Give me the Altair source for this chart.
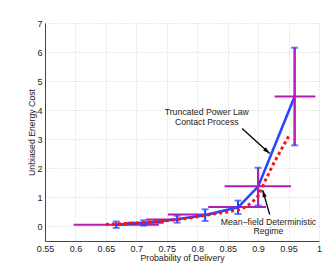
import altair as alt
import pandas as pd

# Blue series: truncated power law contact process (with vertical error)
blue_x = [0.667, 0.712, 0.767, 0.813, 0.867, 0.900, 0.960]
blue_y = [0.06, 0.12, 0.25, 0.39, 0.66, 1.37, 4.47]
blue_err = [0.11, 0.09, 0.12, 0.20, 0.23, 0.65, 1.68]

# Magenta horizontal bars (probability ranges)
mag_y = [0.06, 0.13, 0.24, 0.41, 0.67, 1.38, 4.47]
mag_lo = [0.597, 0.685, 0.716, 0.752, 0.818, 0.845, 0.927]
mag_hi = [0.737, 0.745, 0.765, 0.813, 0.913, 0.954, 0.994]

# Red dotted series: mean-field deterministic regime
red_x = [0.65, 0.69, 0.72, 0.76, 0.79, 0.815, 0.84, 0.87, 0.88, 0.89, 0.90, 0.91, 0.925, 0.95]
red_y = [0.07, 0.11, 0.15, 0.22, 0.30, 0.39, 0.47, 0.58, 0.68, 0.83, 1.05, 1.50, 2.15, 3.10]

# Axis ticks
x_ticks = [0.55, 0.6, 0.65, 0.7, 0.75, 0.8, 0.85, 0.9, 0.95, 1.0]
y_ticks = [0, 1, 2, 3, 4, 5, 6, 7]

# Annotations
label_text = ["Truncated Power Law", "Contact Process", "Mean\u2212field Deterministic", "Regime"]
label_x = [0.8157, 0.8157, 0.917, 0.917]
label_y = [3.93, 3.60, 0.14, -0.17]
arrow_x0 = [0.8737, 0.919]
arrow_y0 = [3.37, 0.41]
arrow_x1 = [0.919, 0.9075]
arrow_y1 = [2.51, 1.25]
arrow_angle = [132, 343]

FONT = "Liberation Sans"
BLUE = "#2646ff"
MAG = "#b41cb4"
RED = "#ff1010"

xs = alt.Scale(domain=[0.55, 1.0], nice=False, zero=False)
ys = alt.Scale(domain=[-0.5, 7], nice=False, zero=False)

xaxis = alt.Axis(values=x_ticks, format="~g", title="Probability of Delivery", grid=True,
                 ticks=False, labelPadding=3, titleY=12, titleBaseline="top",
                 labelOverlap=False, labelFlush=False)
yaxis = alt.Axis(values=y_ticks, format="d", title="Unbiased Energy Cost", grid=True,
                 ticks=False, labelPadding=3, titleX=-9, labelOverlap=False, labelFlush=False)


def X(f):
    return alt.X(f, type="quantitative", scale=xs, axis=xaxis)


def Y(f):
    return alt.Y(f, type="quantitative", scale=ys, axis=yaxis)


blue = pd.DataFrame({"x": blue_x, "y": blue_y, "lo": [a - b for a, b in zip(blue_y, blue_err)],
                     "hi": [a + b for a, b in zip(blue_y, blue_err)]})
mag = pd.DataFrame({"y": mag_y, "lo": mag_lo, "hi": mag_hi})
red = pd.DataFrame({"x": red_x, "y": red_y})
labels = pd.DataFrame({"t": label_text, "x": label_x, "y": label_y})
arrows = pd.DataFrame({"x0": arrow_x0, "y0": arrow_y0, "x1": arrow_x1, "y1": arrow_y1, "a": arrow_angle})

mag_h = alt.Chart(mag).mark_rule(color=MAG, strokeWidth=2).encode(
    x=X("lo"), x2="hi:Q", y=Y("y"))

blue_line = alt.Chart(blue).mark_line(color=BLUE, strokeWidth=2.6).encode(
    x=X("x"), y=Y("y"))

blue_bars = alt.Chart(blue).mark_rule(color=BLUE, strokeWidth=2).encode(
    x=X("x"), y=Y("lo"), y2="hi:Q")

mag_v = alt.Chart(blue).transform_filter("datum.x >= 0.89").mark_rule(color=MAG, strokeWidth=2).encode(
    x=X("x"), y=Y("lo"), y2="hi:Q")

caps_lo = alt.Chart(blue).mark_tick(color=BLUE, thickness=2, size=7, orient="horizontal").encode(
    x=X("x"), y=Y("lo"))
caps_hi = alt.Chart(blue).mark_tick(color=BLUE, thickness=2, size=7, orient="horizontal").encode(
    x=X("x"), y=Y("hi"))

red_line = alt.Chart(red).mark_line(color=RED, strokeWidth=3, strokeDash=[3, 3]).encode(
    x=X("x"), y=Y("y"))

arrow_shaft = alt.Chart(arrows).mark_rule(color="black", strokeWidth=1.3).encode(
    x=X("x0"), y=Y("y0"), x2="x1:Q", y2="y1:Q")
arrow_head = alt.Chart(arrows).mark_point(shape="M0,0L0.6,2L-0.6,2Z", filled=True, color="black",
                                          size=49, opacity=1).encode(
    x=X("x1"), y=Y("y1"), angle=alt.Angle("a:Q", scale=None))

text = alt.Chart(labels).mark_text(font=FONT, fontSize=8.7, color="#222", align="center",
                                   baseline="middle").encode(
    x=X("x"), y=Y("y"), text="t:N")

chart = alt.layer(mag_h, blue_line, blue_bars, mag_v, caps_lo, caps_hi, red_line,
                  arrow_shaft, arrow_head, text).properties(
    width=274, height=218,
    autosize=alt.AutoSizeParams(type="none"),
    padding={"left": 37, "top": 15, "right": 3, "bottom": 22},
).configure_view(stroke=None).configure_axis(
    labelFont=FONT, titleFont=FONT, labelFontSize=9, titleFontSize=8.7, titleFontWeight="normal",
    labelColor="#222", titleColor="#222", domainColor="#444", domainWidth=1,
    gridColor="#c8c8c8", gridDash=[1, 2], gridWidth=0.8, labelOverlap=False,
)

chart.save("out.html", embed_options={"renderer": "svg", "actions": False})
